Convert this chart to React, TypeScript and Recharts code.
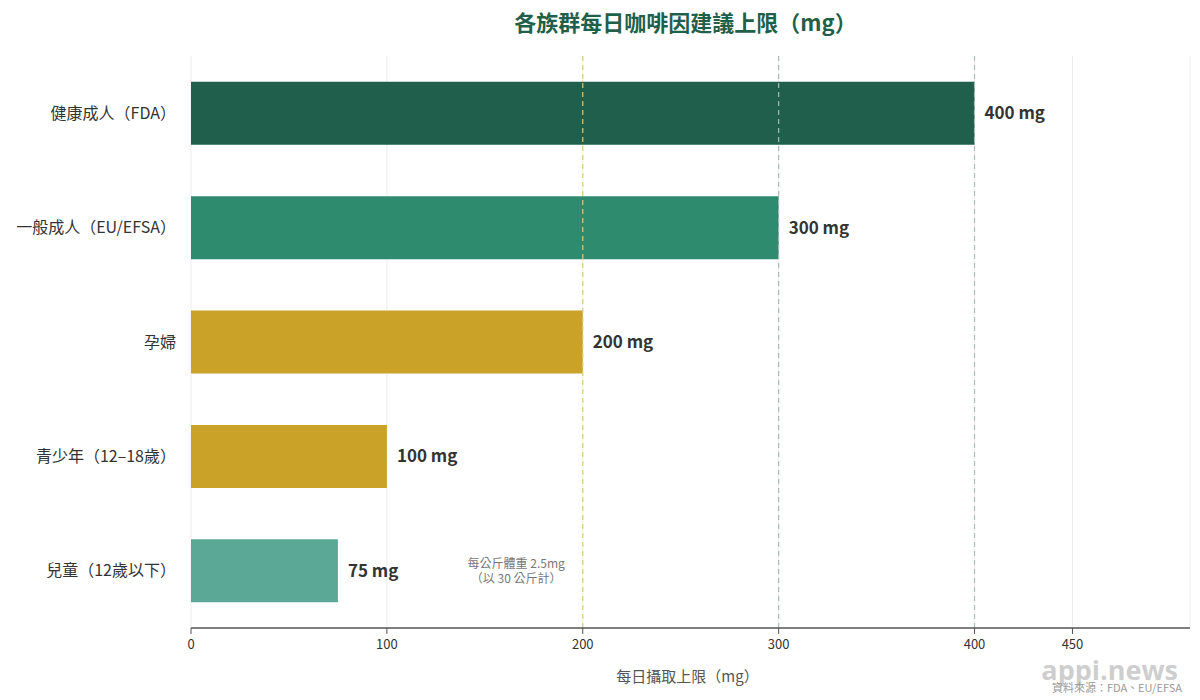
import React from "react";
import {
  BarChart,
  Bar,
  XAxis,
  YAxis,
  CartesianGrid,
  ReferenceLine,
  ReferenceDot,
  LabelList,
  Cell,
} from "recharts";

const groups = [
  "健康成人（FDA）",
  "一般成人（EU/EFSA）",
  "孕婦",
  "青少年（12–18歲）",
  "兒童（12歲以下）",
];
const limits = [400, 300, 200, 100, 75];
const barColors = ["#1F5F4C", "#2E8B6E", "#C9A227", "#C9A227", "#5BA896"];
const xTicks = [0, 100, 200, 300, 400, 450];
const refValues = [200, 300, 400];
const refColors = ["#D9CC7A", "#A9BDB7", "#A9BDB7"];
const noteLines = ["每公斤體重 2.5mg", "（以 30 公斤計）"];
const noteX = 166;

const data = groups.map((g, i) => ({ name: g, value: limits[i] }));

const FONT = '"Noto Sans CJK TC", "Noto Sans", sans-serif';

const NoteLabel = (props: any) => {
  const vb = props.viewBox || {};
  const cx = vb.x ?? props.cx;
  const cy = vb.y ?? props.cy;
  return (
    <text
      x={cx}
      textAnchor="middle"
      fontSize={12}
      fill="#777"
      fontFamily={FONT}
    >
      <tspan x={cx} y={cy - 3}>{noteLines[0]}</tspan>
      <tspan x={cx} y={cy + 12}>{noteLines[1]}</tspan>
    </text>
  );
};

export default function App() {
  return (
    <div
      style={{
        position: "absolute",
        left: 0,
        top: 0,
        width: 1200,
        height: 700,
        background: "#fff",
        fontFamily: FONT,
      }}
    >
      <div
        style={{
          position: "absolute",
          left: 191,
          width: 989,
          top: 6,
          textAlign: "center",
          fontSize: 22,
          fontWeight: 700,
          color: "#1F5F4C",
          lineHeight: "30px",
        }}
      >
        各族群每日咖啡因建議上限（mg）
      </div>
      <BarChart
        width={1200}
        height={700}
        data={data}
        layout="vertical"
        margin={{ top: 56, right: 10, left: 0, bottom: 0 }}
        barCategoryGap="22.5%"
        style={{ position: "absolute", left: 0, top: 0 }}
      >
        <CartesianGrid horizontal={false} stroke="#EDEDED" strokeWidth={1} />
        <XAxis
          type="number"
          domain={[0, 510]}
          ticks={xTicks}
          allowDataOverflow
          height={72}
          axisLine={{ stroke: "#555", strokeWidth: 1.5 }}
          tickLine={{ stroke: "#555" }}
          tickSize={6}
          tickMargin={6}
          tick={{ fontSize: 13, fill: "#333", fontFamily: FONT }}
          label={{
            value: "每日攝取上限（mg）",
            position: "insideBottom",
            offset: 18,
            dx: -3,
            style: { fontSize: 15, fill: "#555", fontFamily: FONT },
          }}
        />
        <YAxis
          type="category"
          dataKey="name"
          width={191}
          axisLine={false}
          tickLine={false}
          tickMargin={9}
          tick={{ fontSize: 16, fill: "#333", fontFamily: FONT }}
        />
        <Bar dataKey="value" isAnimationActive={false}>
          {data.map((d, i) => (
            <Cell key={d.name} fill={barColors[i]} />
          ))}
          <LabelList
            dataKey="value"
            position="right"
            offset={10}
            formatter={(v: any) => `${v} mg`}
            style={{ fontSize: 17, fontWeight: 700, fill: "#333", fontFamily: FONT }}
          />
        </Bar>
        {refValues.map((v, i) => (
          <ReferenceLine
            key={v}
            x={v}
            stroke={refColors[i]}
            strokeDasharray="5 4"
            strokeWidth={1.2}
          />
        ))}
        <ReferenceDot
          x={noteX}
          y={groups[4]}
          r={0}
          stroke="none"
          fill="none"
          label={<NoteLabel />}
        />
      </BarChart>
      <div
        style={{
          position: "absolute",
          right: 22,
          top: 659,
          fontSize: 27,
          fontWeight: 700,
          color: "rgba(190,190,190,0.75)",
          fontFamily: '"Open Sans", sans-serif',
          lineHeight: "21px",
        }}
      >
        appi.news
      </div>
      <div
        style={{
          position: "absolute",
          right: 18,
          top: 681,
          fontSize: 11,
          color: "#999",
          lineHeight: "12px",
        }}
      >
        資料來源：FDA、EU/EFSA
      </div>
    </div>
  );
}
